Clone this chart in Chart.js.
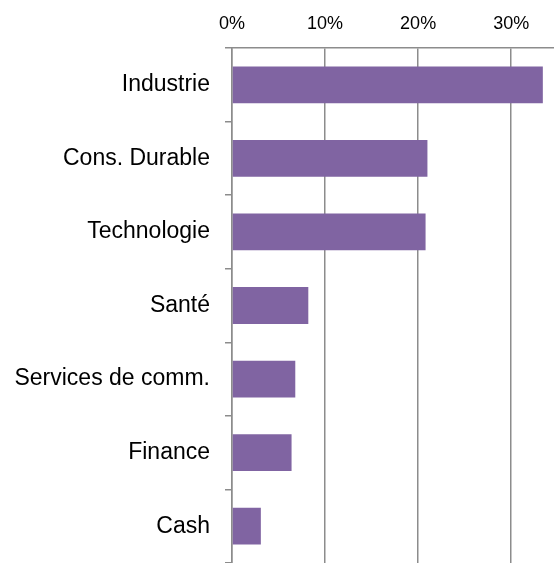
<!DOCTYPE html>
<html>
<head>
<meta charset="utf-8">
<script src="https://cdn.jsdelivr.net/npm/chart.js@4"></script>
<style>
  html, body { margin: 0; padding: 0; background: #fff; }
  #wrap { width: 554px; height: 563px; }
</style>
</head>
<body>
<div id="wrap"><canvas id="chart" width="554" height="563"></canvas></div>
<script>
// Répartition sectorielle (%)
const categories = ['Industrie', 'Cons. Durable', 'Technologie', 'Santé', 'Services de comm.', 'Finance', 'Cash'];
const weights = [33.4, 21.0, 20.8, 8.2, 6.8, 6.4, 3.1];
const tickValues = [0, 10, 20, 30];

const gridGrey = '#8c8c8c';

const ctx = document.getElementById('chart').getContext('2d');
new Chart(ctx, {
  type: 'bar',
  data: {
    labels: categories,
    datasets: [{
      data: weights,
      backgroundColor: '#8064A2',
      borderWidth: 0,
      barPercentage: 0.5,
      categoryPercentage: 1.0
    }]
  },
  options: {
    indexAxis: 'y',
    responsive: false,
    animation: false,
    layout: { padding: 0 },
    plugins: {
      legend: { display: false },
      tooltip: { enabled: false }
    },
    scales: {
      x: {
        position: 'top',
        min: 0,
        max: 34.6,
        afterBuildTicks: (scale) => {
          scale.ticks = tickValues.map(v => ({ value: v }));
        },
        afterFit: (scale) => {
          scale.height = 48;
          scale.paddingLeft = 0;
          scale.paddingRight = 0;
        },
        grid: {
          color: gridGrey,
          lineWidth: 1.5,
          drawTicks: false
        },
        border: { color: gridGrey, width: 1.5 },
        ticks: {
          padding: 13,
          color: '#000',
          font: { family: 'Liberation Sans', size: 18 },
          callback: (v) => v + '%'
        }
      },
      y: {
        offset: true,
        afterFit: (scale) => {
          scale.width = 232;
          scale.paddingTop = 0;
          scale.paddingBottom = 0;
        },
        grid: {
          offset: true,
          drawOnChartArea: false,
          color: gridGrey,
          lineWidth: 1.5,
          tickLength: 7
        },
        border: { color: gridGrey, width: 1.5 },
        ticks: {
          padding: 15,
          color: '#000',
          font: { family: 'Liberation Sans', size: 23 }
        }
      }
    }
  }
});
</script>
</body>
</html>
